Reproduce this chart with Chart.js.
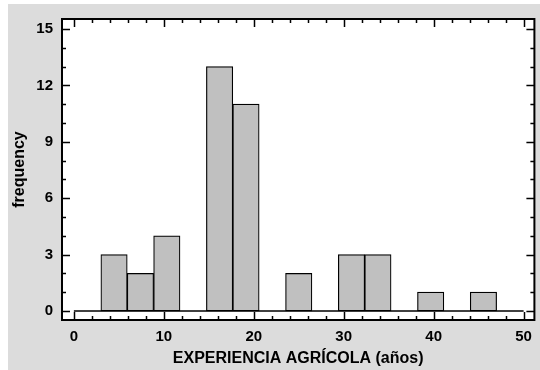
<!DOCTYPE html>
<html>
<head>
<meta charset="utf-8">
<script src="https://cdn.jsdelivr.net/npm/chart.js@4.4.1/dist/chart.umd.min.js"></script>
<style>
  html, body { margin: 0; padding: 0; background: #ffffff; }
  #wrap { position: relative; width: 540px; height: 370px; }
  #panel { position: absolute; left: 8px; top: 4px; width: 532px; height: 366px; background: #dcdcdc; }
  #c { position: absolute; left: 0; top: 0; }
</style>
</head>
<body>
<div id="wrap">
  <div id="panel"></div>
  <canvas id="c" width="540" height="370"></canvas>
</div>
<script>
// Histogram of farming experience (years): 15 classes from 3 to 47
const classLower = [3, 5.933, 8.867, 11.8, 14.733, 17.667, 20.6, 23.533, 26.467, 29.4, 32.333, 35.267, 38.2, 41.133, 44.067];
const classWidth = 2.933;
const frequencies = [3, 2, 4, 0, 13, 11, 0, 2, 0, 3, 3, 0, 1, 0, 1];
const xTickValues = [0, 10, 20, 30, 40, 50];
const yTickValues = [0, 3, 6, 9, 12, 15];
const xMinorStep = 2;
const yMinorStep = 1;

// one bar per non-empty class, centred on the class midpoint
const barData = [];
classLower.forEach((lo, i) => {
  if (frequencies[i] > 0) barData.push({ x: lo + classWidth / 2, y: frequencies[i] });
});

const fontTick = { family: 'Liberation Sans, Arial, sans-serif', size: 15, weight: 'bold' };
const fontTitle = { family: 'Liberation Sans, Arial, sans-serif', size: 16, weight: 'bold' };

// frame, inward tick marks and the zero baseline
const framePlugin = {
  id: 'frame',
  afterDatasetsDraw(chart) {
    const { ctx, chartArea: a, scales: { x, y } } = chart;
    ctx.save();
    ctx.strokeStyle = '#000';
    ctx.lineCap = 'butt';

    // baseline at frequency 0 across the x range
    ctx.lineWidth = 1.6;
    ctx.beginPath();
    ctx.moveTo(x.getPixelForValue(xTickValues[0]), y.getPixelForValue(0));
    ctx.lineTo(x.getPixelForValue(xTickValues[xTickValues.length - 1]), y.getPixelForValue(0));
    ctx.stroke();

    // x ticks (bottom and top)
    ctx.lineWidth = 1.5;
    const x0 = xTickValues[0], x1 = xTickValues[xTickValues.length - 1];
    for (let v = x0; v <= x1 + 1e-9; v += xMinorStep) {
      const major = xTickValues.includes(v);
      const len = major ? 8 : 4;
      const px = Math.round(x.getPixelForValue(v)) + 0.5;
      ctx.beginPath();
      ctx.moveTo(px, a.bottom); ctx.lineTo(px, a.bottom - len);
      ctx.moveTo(px, a.top); ctx.lineTo(px, a.top + len);
      ctx.stroke();
    }
    // y ticks (left and right)
    const y0 = yTickValues[0], y1 = yTickValues[yTickValues.length - 1];
    for (let v = y0; v <= y1 + 1e-9; v += yMinorStep) {
      const major = yTickValues.includes(v);
      const len = major ? 8 : 4;
      const py = Math.round(y.getPixelForValue(v)) + 0.5;
      ctx.beginPath();
      ctx.moveTo(a.left, py); ctx.lineTo(a.left + len, py);
      ctx.moveTo(a.right, py); ctx.lineTo(a.right - len, py);
      ctx.stroke();
    }

    // plot frame
    ctx.lineWidth = 2;
    ctx.strokeRect(a.left, a.top, a.right - a.left, a.bottom - a.top);
    ctx.restore();
  },
  beforeDraw(chart) {
    const { ctx, chartArea: a } = chart;
    ctx.save();
    ctx.fillStyle = '#ffffff';
    ctx.fillRect(a.left, a.top, a.right - a.left, a.bottom - a.top);
    ctx.restore();
  }
};

new Chart(document.getElementById('c'), {
  type: 'bar',
  data: {
    datasets: [{
      data: barData,
      backgroundColor: '#c0c0c0',
      borderColor: '#000000',
      borderWidth: 1.2,
      borderSkipped: false,
      barPercentage: 1,
      categoryPercentage: 1
    }]
  },
  options: {
    responsive: false,
    animation: false,
    events: [],
    layout: { padding: { left: 0, top: 19, right: 2, bottom: 0 } },
    plugins: { legend: { display: false }, tooltip: { enabled: false } },
    scales: {
      x: {
        type: 'linear',
        offset: false,
        min: -1.32,
        max: 51.2,
        grid: { display: false, drawTicks: false, offset: false },
        border: { display: false },
        afterBuildTicks: s => { s.ticks = xTickValues.map(v => ({ value: v })); },
        afterFit: s => { s.height = 50; },
        ticks: { color: '#000', font: fontTick, padding: 8, maxRotation: 0, autoSkip: false },
        title: { display: true, text: 'EXPERIENCIA AGRÍCOLA (años)', color: '#000', font: fontTitle, padding: { top: 0, bottom: 2 } }
      },
      y: {
        type: 'linear',
        min: -0.48,
        max: 15.53,
        grid: { display: false, drawTicks: false },
        border: { display: false },
        afterBuildTicks: s => { s.ticks = yTickValues.map(v => ({ value: v })); },
        afterFit: s => { s.width = 62; },
        ticks: { color: '#000', font: fontTick, padding: 9 },
        title: { display: true, text: 'frequency', color: '#000', font: fontTitle, padding: { top: 10, bottom: 0 } }
      }
    }
  },
  plugins: [framePlugin]
});
</script>
</body>
</html>
